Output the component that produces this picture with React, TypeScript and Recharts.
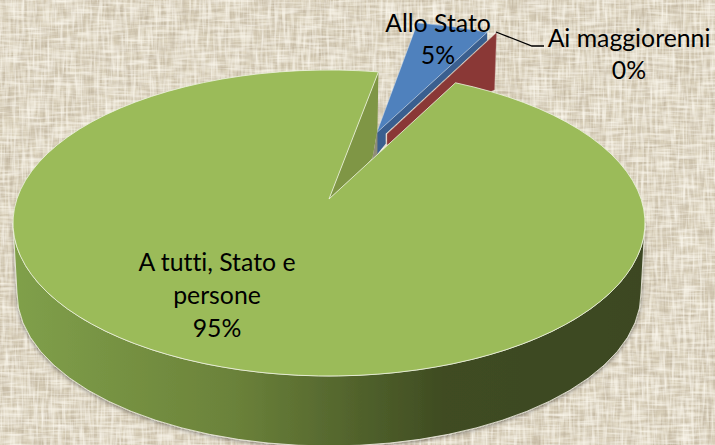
import React from "react";
import { PieChart, Pie } from "recharts";

// Data
const sliceNames = ["Allo Stato", "Ai maggiorenni", "A tutti, Stato e persone"];
const sliceValues = [4.6, 0.4, 95];
const sliceColors = ["#4f81bd", "#8a3836", "#9bbb59"];

const pieData = sliceNames.map((name, i) => ({
  name,
  value: sliceValues[i],
  fill: sliceColors[i],
}));

// Fake 3D projection of the pie
const TILT = 153 / 316;
const DEPTH = 70;
const BOTTOM_INSET = 4;
const APEX_LIFT = 24;
const TOP_SKEW = 3.4; // perspective squeezes the angles near the top of the ellipse

const rimPoint = (cx, cy, r, deg, dx = 0, dy = 0) => ({
  x: cx + r * Math.cos((deg * Math.PI) / 180) + dx,
  y: cy - r * TILT * Math.sin((deg * Math.PI) / 180) + dy,
});

const poly = (pts) => pts.map((p, i) => `${i ? "L" : "M"}${p.x} ${p.y}`).join(" ") + " Z";

const SliceShape = (props) => {
  const { cx, cy, outerRadius: r, startAngle, endAngle, name, fill } = props;
  const ry = r * TILT;

  if (name === sliceNames[0]) {
    const apex = { x: cx + 47.7, y: cy - 90.3 };
    const a = rimPoint(cx, cy, r, startAngle - TOP_SKEW, 39, -49);
    const b = rimPoint(cx, cy, r, endAngle, 39, -49);
    const wall = [
      apex,
      b,
      { x: b.x, y: b.y + 8 },
      { x: apex.x + 9, y: apex.y + 1 },
      { x: apex.x + 9, y: apex.y + 11 },
      { x: apex.x, y: apex.y + 22 },
    ];
    return (
      <g>
        <path d={poly(wall)} fill="#3a5f8f" />
        <path
          d={`M${apex.x} ${apex.y} L${a.x} ${a.y} A${r} ${ry} 0 0 1 ${b.x} ${b.y} Z`}
          fill={fill}
          stroke="#cfdcec"
          strokeWidth={0.5}
        />
      </g>
    );
  }

  if (name === sliceNames[1]) {
    const apex = { x: cx + 58, y: cy - 89 };
    const b = rimPoint(cx, cy, r, endAngle, 41, -50);
    const wall = [apex, b, { x: b.x - 2, y: b.y + 57 }, { x: apex.x, y: apex.y + 11 }];
    return <path d={poly(wall)} fill={fill} stroke="#b98a88" strokeWidth={0.4} />;
  }

  const apex = { x: cx, y: cy - APEX_LIFT };
  const a = rimPoint(cx, cy, r, startAngle);
  const b = rimPoint(cx, cy, r, endAngle - TOP_SKEW);
  const rb = r - BOTTOM_INSET;
  const olive = [
    apex,
    b,
    { x: b.x - 1, y: b.y + 58 },
    { x: b.x - 6, y: b.y + 86 },
    { x: b.x - 12, y: b.y + 93 },
  ];
  const speck = [
    { x: b.x - 1, y: b.y + 58 },
    { x: b.x - 1, y: b.y + 84 },
    { x: b.x - 9, y: b.y + 93 },
    { x: b.x - 6, y: b.y + 86 },
  ];
  return (
    <g>
      <path
        d={`M${cx - r} ${cy} A${r} ${ry} 0 0 0 ${cx + r} ${cy} L${cx + rb} ${cy + DEPTH} A${rb} ${ry} 0 0 1 ${cx - rb} ${cy + DEPTH} Z`}
        fill="url(#wallFill)"
        stroke="#f4f1e6"
        strokeWidth={0.8}
        filter="url(#wallShadow)"
      />
      <path d={poly(speck)} fill="#8f8d78" />
      <path d={poly(olive)} fill="#7f9645" />
      <path
        d={`M${apex.x} ${apex.y} L${a.x} ${a.y} A${r} ${ry} 0 1 1 ${b.x} ${b.y} Z`}
        fill={fill}
        stroke="#eef3e0"
        strokeWidth={0.8}
      />
    </g>
  );
};

const labelSpots = [
  { x: 438, y: 32, gap: 32 },
  { x: 629, y: 47, gap: 32 },
  { x: 217, y: 271, gap: 33 },
];
const labelLines = [["Allo Stato"], ["Ai maggiorenni"], ["A tutti, Stato e", "persone"]];

const SliceLabel = (props) => {
  const { name, percent } = props;
  const i = sliceNames.indexOf(name);
  const spot = labelSpots[i];
  const rows = [...labelLines[i], `${Math.round(percent * 100)}%`];
  return (
    <g>
      {i === 1 && (
        <polyline points="496,32 532,46 544,46" fill="none" stroke="#000" strokeWidth={1.3} />
      )}
      <text
        textAnchor="middle"
        fontFamily="Lato, sans-serif"
        fontSize={24.8}
        fill="#000"
        style={{ fontVariantLigatures: "none" }}
      >
        {rows.map((row, n) => (
          <tspan key={n} x={spot.x} y={spot.y + n * spot.gap}>
            {row}
          </tspan>
        ))}
      </text>
    </g>
  );
};

// Woven cloth behind the chart: streaky noise in both directions
const Cloth = () => (
  <svg width={715} height={445} style={{ position: "absolute", left: 0, top: 0 }}>
    <defs>
      <filter id="darkH" x="0" y="0" width="100%" height="100%">
        <feTurbulence type="fractalNoise" baseFrequency="0.035 0.33" numOctaves={2} seed={4} />
        <feColorMatrix values="0 0 0 0 0.52  0 0 0 0 0.45  0 0 0 0 0.34  1.5 0 0 0 -0.55" />
      </filter>
      <filter id="darkV" x="0" y="0" width="100%" height="100%">
        <feTurbulence type="fractalNoise" baseFrequency="0.33 0.035" numOctaves={2} seed={9} />
        <feColorMatrix values="0 0 0 0 0.52  0 0 0 0 0.45  0 0 0 0 0.34  1.5 0 0 0 -0.55" />
      </filter>
      <filter id="lightH" x="0" y="0" width="100%" height="100%">
        <feTurbulence type="fractalNoise" baseFrequency="0.04 0.36" numOctaves={2} seed={17} />
        <feColorMatrix values="0 0 0 0 0.98  0 0 0 0 0.95  0 0 0 0 0.87  1.6 0 0 0 -0.62" />
      </filter>
      <filter id="lightV" x="0" y="0" width="100%" height="100%">
        <feTurbulence type="fractalNoise" baseFrequency="0.36 0.04" numOctaves={2} seed={23} />
        <feColorMatrix values="0 0 0 0 0.98  0 0 0 0 0.95  0 0 0 0 0.87  1.6 0 0 0 -0.62" />
      </filter>
    </defs>
    <rect width={715} height={445} fill="#dcd3bd" />
    <rect width={715} height={445} filter="url(#darkH)" />
    <rect width={715} height={445} filter="url(#darkV)" />
    <rect width={715} height={445} filter="url(#lightH)" />
    <rect width={715} height={445} filter="url(#lightV)" />
  </svg>
);

export default function App() {
  return (
    <div style={{ position: "absolute", left: 0, top: 0, width: 715, height: 445, overflow: "hidden" }}>
      <Cloth />
      <div style={{ position: "absolute", left: 0, top: 0 }}>
        <PieChart width={715} height={445} margin={{ top: 0, right: 0, bottom: 0, left: 0 }}>
          <defs>
            <linearGradient id="wallFill" x1="0" y1="0" x2="1" y2="0">
              <stop offset="0" stopColor="#80a04a" />
              <stop offset="0.35" stopColor="#6b823a" />
              <stop offset="0.68" stopColor="#3f4c22" />
              <stop offset="1" stopColor="#3c4720" />
            </linearGradient>
            <filter id="wallShadow" x="-5%" y="-5%" width="110%" height="115%">
              <feDropShadow dx="0" dy="1" stdDeviation="2" floodColor="#000" floodOpacity="0.45" />
            </filter>
          </defs>
          <Pie
            data={pieData}
            dataKey="value"
            nameKey="name"
            cx={329}
            cy={223}
            innerRadius={0}
            outerRadius={316}
            startAngle={84.4}
            endAngle={-275.6}
            stroke="none"
            shape={SliceShape}
            label={SliceLabel}
            labelLine={false}
            isAnimationActive={false}
          />
        </PieChart>
      </div>
    </div>
  );
}
